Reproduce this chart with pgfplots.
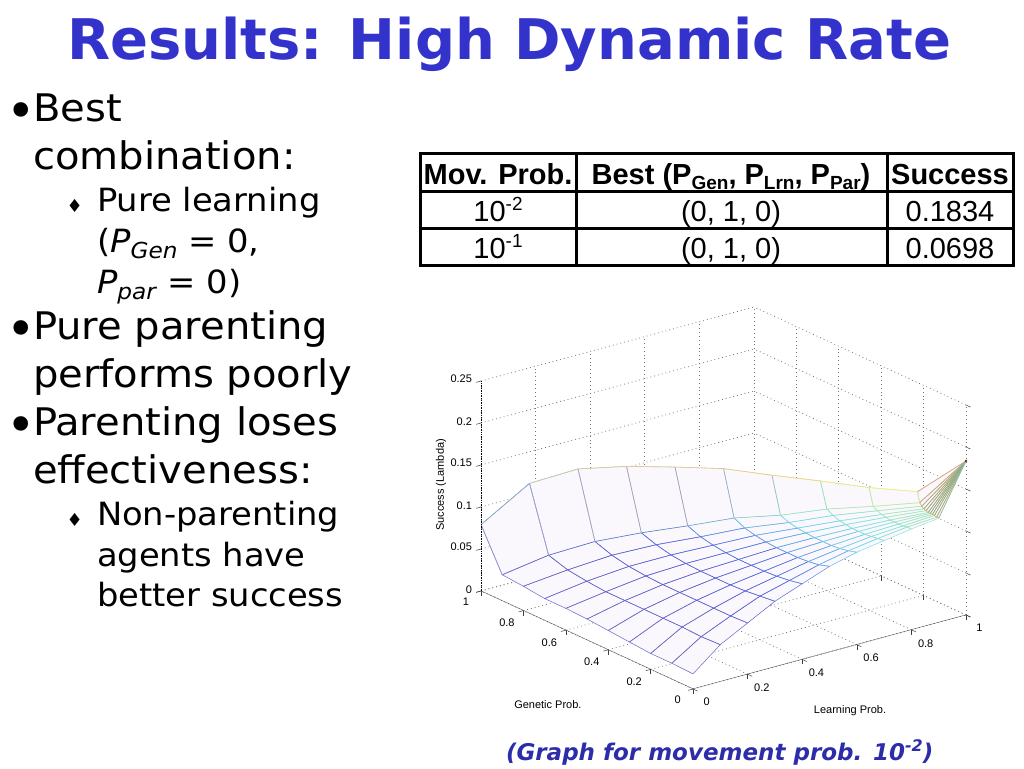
\documentclass[border=0pt]{standalone}
\usepackage{fontspec}
\usepackage{pgfplots}
\usepackage{pgfplotstable}
\pgfplotsset{compat=1.18}
\setmainfont[FakeStretch=1.055]{DejaVu Sans}
\newfontfamily\plainfont{DejaVu Sans}
\newfontfamily\arial{Liberation Sans}
\definecolor{titleblue}{RGB}{51,51,204}
\definecolor{capblue}{RGB}{45,45,170}

% rows: Learning, Genetic, Success
\pgfplotstableread{
x y z
0.0 0.00 0.018
0.0 0.10 0.019
0.0 0.20 0.019
0.0 0.30 0.021
0.0 0.40 0.023
0.0 0.50 0.025
0.0 0.60 0.026
0.0 0.70 0.026
0.0 0.80 0.029
0.0 0.90 0.031
0.0 1.00 0.079
0.1 0.00 0.044
0.1 0.09 0.043
0.1 0.18 0.044
0.1 0.27 0.044
0.1 0.36 0.044
0.1 0.45 0.044
0.1 0.54 0.044
0.1 0.63 0.046
0.1 0.72 0.049
0.1 0.81 0.056
0.1 0.90 0.131
0.2 0.00 0.061
0.2 0.08 0.060
0.2 0.16 0.060
0.2 0.24 0.060
0.2 0.32 0.060
0.2 0.40 0.060
0.2 0.48 0.061
0.2 0.56 0.063
0.2 0.64 0.067
0.2 0.72 0.074
0.2 0.80 0.151
0.3 0.00 0.078
0.3 0.07 0.076
0.3 0.14 0.074
0.3 0.21 0.073
0.3 0.28 0.073
0.3 0.35 0.073
0.3 0.42 0.074
0.3 0.49 0.076
0.3 0.56 0.080
0.3 0.63 0.086
0.3 0.70 0.157
0.4 0.00 0.090
0.4 0.06 0.087
0.4 0.12 0.085
0.4 0.18 0.084
0.4 0.24 0.084
0.4 0.30 0.084
0.4 0.36 0.085
0.4 0.42 0.087
0.4 0.48 0.090
0.4 0.54 0.096
0.4 0.60 0.159
0.5 0.00 0.102
0.5 0.05 0.098
0.5 0.10 0.096
0.5 0.15 0.095
0.5 0.20 0.095
0.5 0.25 0.095
0.5 0.30 0.096
0.5 0.35 0.098
0.5 0.40 0.101
0.5 0.45 0.107
0.5 0.50 0.160
0.6 0.00 0.110
0.6 0.04 0.107
0.6 0.08 0.105
0.6 0.12 0.104
0.6 0.16 0.104
0.6 0.20 0.104
0.6 0.24 0.105
0.6 0.28 0.106
0.6 0.32 0.108
0.6 0.36 0.112
0.6 0.40 0.155
0.7 0.00 0.115
0.7 0.03 0.114
0.7 0.06 0.113
0.7 0.09 0.112
0.7 0.12 0.112
0.7 0.15 0.112
0.7 0.18 0.113
0.7 0.21 0.114
0.7 0.24 0.117
0.7 0.27 0.121
0.7 0.30 0.151
0.8 0.00 0.120
0.8 0.02 0.120
0.8 0.04 0.119
0.8 0.06 0.119
0.8 0.08 0.119
0.8 0.10 0.119
0.8 0.12 0.120
0.8 0.14 0.121
0.8 0.16 0.123
0.8 0.18 0.126
0.8 0.20 0.146
0.9 0.00 0.124
0.9 0.01 0.124
0.9 0.02 0.125
0.9 0.03 0.125
0.9 0.04 0.125
0.9 0.05 0.125
0.9 0.06 0.126
0.9 0.07 0.127
0.9 0.08 0.129
0.9 0.09 0.132
0.9 0.10 0.144
1.0 0.00 0.1834
1.0 0.00 0.1834
1.0 0.00 0.1834
1.0 0.00 0.1834
1.0 0.00 0.1834
1.0 0.00 0.1834
1.0 0.00 0.1834
1.0 0.00 0.1834
1.0 0.00 0.1834
1.0 0.00 0.1834
1.0 0.00 0.1834
}\surfdata

\newcommand{\ticktext}{\arial\fontsize{11}{11}\selectfont}
\newcommand{\pone}[1]{\fontsize{#1}{#1}\selectfont}
% one edge of the mesh in its own colour (r,g,b)
\newcommand{\seg}[4]{\addplot3[no marks, line width=0.6pt, color={rgb,255:red,#1;green,#2;blue,#3}, forget plot] coordinates {#4};}

\begin{document}
\begin{tikzpicture}
\useasboundingbox (0pt,0pt) rectangle (1024pt,768pt);

\begin{axis}[
    at={(693pt,79pt)}, anchor=origin,
    x={(273pt,74pt)}, y={(-212pt,98pt)}, z={(0pt,840pt)},
    xmin=0, xmax=1, ymin=0, ymax=1, zmin=0, zmax=0.25,
    xtick={0,0.2,0.4,0.6,0.8,1},
    ytick={0,0.2,0.4,0.6,0.8,1},
    ztick={0,0.05,0.1,0.15,0.2,0.25},
    xticklabels={0,0.2,0.4,0.6,0.8,1},
    yticklabels={0,0.2,0.4,0.6,0.8,1},
    zticklabels={0,0.05,0.1,0.15,0.2,0.25},
    tick pos=left,
    xticklabel style={font=\ticktext, xshift=4pt, yshift=-2.5pt},
    yticklabel style={font=\ticktext, xshift=-4.5pt, yshift=-1.5pt},
    zticklabel style={font=\ticktext, xshift=-1pt, yshift=-1.5pt},
    grid=major,
    grid style={black!55, dash pattern=on 0.9pt off 3pt, line width=0.7pt},
    axis line style={draw=none},
    tick style={black!75, line width=0.5pt},
    major tick length=5pt,
    tick align=outside,
    xlabel={Learning Prob.}, ylabel={Genetic Prob.}, zlabel={Success (Lambda)},
    x label style={at={(rel axis cs:0.253,-0.415,0)}, anchor=center, sloped=false, font=\ticktext},
    y label style={at={(rel axis cs:-0.415,0.15,0)}, anchor=center, sloped=false, font=\ticktext},
    z label style={at={(rel axis cs:-0.1465,1,0.557)}, anchor=center, sloped=false, rotate=0, font=\ticktext},
    point meta min=0.018, point meta max=0.1834,
    colormap={slidejet}{rgb255=(105,105,190) rgb255=(105,105,195) rgb255=(95,95,205)
      rgb255=(85,110,225) rgb255=(120,225,235) rgb255=(215,240,140)
      rgb255=(240,160,100) rgb255=(120,20,20)},
]
\addplot3[surf, shader=flat, mesh/rows=11, mesh/ordering=rowwise,
    colormap={flatlav}{rgb255=(250,247,253) rgb255=(250,247,253)}] table {\surfdata};
\addplot3[mesh, mesh/rows=11, mesh/ordering=rowwise, line width=0.5pt,
    colormap name=slidejet] table {\surfdata};

% ribs from the top edge down to the next row
\seg{255}{255}{255}{(0,1,0.079)(0,0.9,0.031)}
\seg{130}{130}{200}{(0,1,0.079)(0,0.9,0.031)}
\seg{255}{255}{255}{(0.1,0.9,0.131)(0.1,0.81,0.056)}
\seg{150}{140}{190}{(0.1,0.9,0.131)(0.1,0.81,0.056)}
\seg{255}{255}{255}{(0.2,0.8,0.151)(0.2,0.72,0.074)}
\seg{170}{140}{175}{(0.2,0.8,0.151)(0.2,0.72,0.074)}
\seg{255}{255}{255}{(0.3,0.7,0.157)(0.3,0.63,0.086)}
\seg{165}{140}{180}{(0.3,0.7,0.157)(0.3,0.63,0.086)}
\seg{255}{255}{255}{(0.4,0.6,0.159)(0.4,0.54,0.096)}
\seg{150}{140}{190}{(0.4,0.6,0.159)(0.4,0.54,0.096)}
\seg{255}{255}{255}{(0.5,0.5,0.160)(0.5,0.45,0.107)}
\seg{125}{160}{215}{(0.5,0.5,0.160)(0.5,0.45,0.107)}
\seg{255}{255}{255}{(0.6,0.4,0.155)(0.6,0.36,0.112)}
\seg{130}{185}{215}{(0.6,0.4,0.155)(0.6,0.36,0.112)}
\seg{255}{255}{255}{(0.7,0.3,0.151)(0.7,0.27,0.121)}
\seg{145}{215}{190}{(0.7,0.3,0.151)(0.7,0.27,0.121)}
\seg{255}{255}{255}{(0.8,0.2,0.146)(0.8,0.18,0.126)}
\seg{170}{230}{170}{(0.8,0.2,0.146)(0.8,0.18,0.126)}
\seg{255}{255}{255}{(0.9,0.1,0.144)(0.9,0.09,0.132)}
\seg{200}{235}{150}{(0.9,0.1,0.144)(0.9,0.09,0.132)}

% top edge
\seg{150}{185}{185}{(0,1,0.079)(0.1,0.9,0.131)}
\seg{215}{205}{150}{(0.1,0.9,0.131)(0.2,0.8,0.151)}
\seg{240}{190}{140}{(0.2,0.8,0.151)(0.3,0.7,0.157)(0.4,0.6,0.159)(0.5,0.5,0.160)}
\seg{240}{195}{130}{(0.5,0.5,0.160)(0.6,0.4,0.155)}
\seg{240}{210}{130}{(0.6,0.4,0.155)(0.7,0.3,0.151)}
\seg{240}{228}{130}{(0.7,0.3,0.151)(0.8,0.2,0.146)}
\seg{245}{240}{130}{(0.8,0.2,0.146)(0.9,0.1,0.144)}

% lines running into the peak
\seg{210}{175}{150}{(0.9,0.1,0.144)(1,0,0.1834)}
\seg{185}{180}{150}{(0.9,0.09,0.132)(1,0,0.1834)}
\seg{165}{175}{150}{(0.9,0.08,0.129)(1,0,0.1834)}
\seg{150}{175}{150}{(0.9,0.07,0.127)(1,0,0.1834)}
\seg{140}{175}{150}{(0.9,0.06,0.126)(1,0,0.1834)}
\seg{135}{175}{150}{(0.9,0.05,0.125)(1,0,0.1834)}
\seg{130}{175}{150}{(0.9,0.04,0.125)(1,0,0.1834)}
\seg{130}{175}{155}{(0.9,0.03,0.125)(1,0,0.1834)}
\seg{130}{180}{155}{(0.9,0.02,0.125)(1,0,0.1834)}
\seg{135}{185}{160}{(0.9,0.01,0.124)(1,0,0.1834)}
\seg{140}{190}{165}{(0.9,0,0.124)(1,0,0.1834)}
\addplot3[only marks, mark=*, mark size=1pt, color={rgb,255:red,120;green,20;blue,20}, forget plot] coordinates {(1,0,0.1834)};

\draw[black!70, line width=0.7pt] (axis cs:0,1,0) -- (axis cs:0,0,0) -- (axis cs:1,0,0);
\draw[black, densely dotted, line width=0.7pt] (axis cs:0,1,0) -- (axis cs:0,1,0.25);
\end{axis}

\begin{scope}[x=1pt, y=-1pt, shift={(0pt,768pt)}]
  \tikzset{txt/.style={anchor=base west, inner sep=0pt, outer sep=0pt}}
  % title
  \node[txt, text=titleblue, font=\plainfont\bfseries\pone{56}] at (67,60) {Results: High Dynamic Rate};

  % body text
  \node[txt, font=\plainfont\pone{50}] at (6,128.5) {•};
  \node[txt, font=\pone{38}] at (33,122) {Best};
  \node[txt, font=\pone{38}] at (33,170) {combination:};
  \node[txt, font=\plainfont\pone{18}] at (66.5,212.5) {♦};
  \node[txt, font=\pone{32}] at (97,212) {Pure learning};
  \node[txt, font=\pone{32}] at (97,253) {(\textit{P}\raisebox{-6pt}{\pone{22}\textit{Gen}} = 0,};
  \node[txt, font=\pone{32}] at (97,294) {\textit{P}\raisebox{-6pt}{\pone{22}\textit{par}} = 0)};
  \node[txt, font=\plainfont\pone{50}] at (6,346.5) {•};
  \node[txt, font=\pone{38}] at (33,340) {Pure parenting};
  \node[txt, font=\pone{38}] at (33,388) {performs poorly};
  \node[txt, font=\plainfont\pone{50}] at (6,442.5) {•};
  \node[txt, font=\pone{38}] at (33,436) {Parenting loses};
  \node[txt, font=\pone{38}] at (33,484) {effectiveness:};
  \node[txt, font=\plainfont\pone{18}] at (66.5,526.5) {♦};
  \node[txt, font=\pone{32}] at (97,526) {Non-parenting};
  \node[txt, font=\pone{32}] at (97,567) {agents have};
  \node[txt, font=\pone{32}] at (97,607) {better success};

  % table
  \draw[black, line width=3pt] (420,154) rectangle (1013,266);
  \draw[black, line width=3pt] (420,192) -- (1013,192) (420,229) -- (1013,229)
     (576,154) -- (576,266) (887,154) -- (887,266);
  \tikzset{cell/.style={anchor=base, inner sep=0pt, font=\arial\pone{29}}}
  \node[cell, font=\arial\bfseries\pone{29}] at (498,185) {Mov. Prob.};
  \node[cell, font=\arial\bfseries\pone{29}] at (731,185) {Best (P\raisebox{-5pt}{\pone{19}Gen}, P\raisebox{-5pt}{\pone{19}Lrn}, P\raisebox{-5pt}{\pone{19}Par})};
  \node[cell, font=\arial\bfseries\pone{29}] at (950,185) {Success};
  \node[cell] at (498,222) {10\raisebox{11pt}{\pone{19}-2}};
  \node[cell] at (731,222) {(0, 1, 0)};
  \node[cell] at (950,222) {0.1834};
  \node[cell] at (498,259) {10\raisebox{11pt}{\pone{19}-1}};
  \node[cell] at (731,259) {(0, 1, 0)};
  \node[cell] at (950,259) {0.0698};

  % caption
  \node[txt, text=capblue, font=\plainfont\bfseries\itshape\pone{23}] at (506,760) {(Graph for movement prob. 10\raisebox{9pt}{\pone{16}-2})};
\end{scope}
\end{tikzpicture}
\end{document}
